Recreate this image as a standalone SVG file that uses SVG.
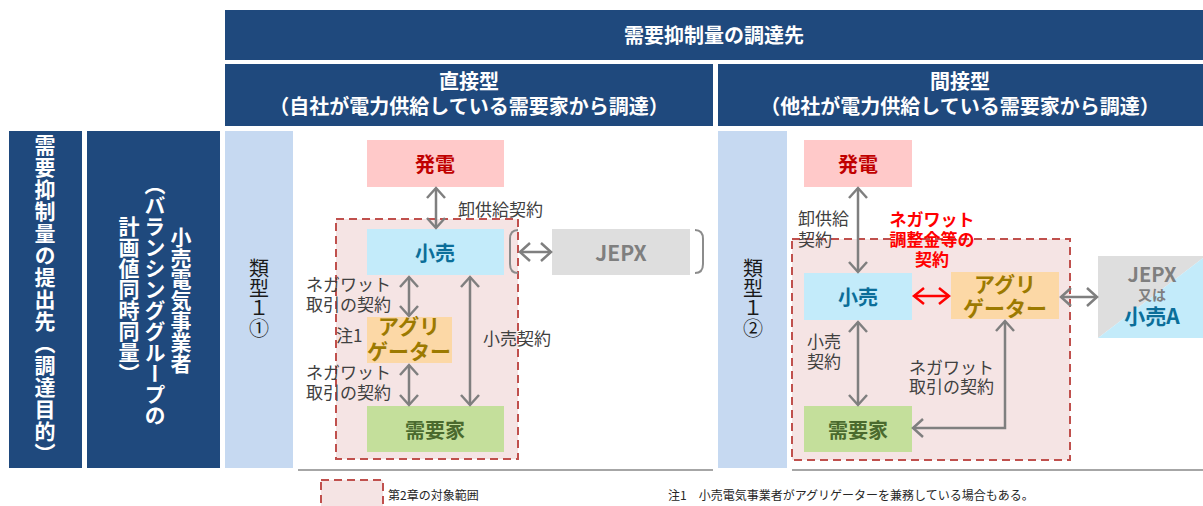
<svg xmlns="http://www.w3.org/2000/svg" width="1203" height="506" viewBox="0 0 1203 506">
<style>
text{font-family:"Noto Sans CJK JP","Noto Sans",sans-serif}
.hdr{fill:#1f497d}
.hdrt{fill:#fff;font-weight:bold;font-size:20px;text-anchor:middle;dominant-baseline:central}
.vt{fill:#fff;font-weight:bold;font-size:21px;text-anchor:middle;writing-mode:vertical-rl}
.type{fill:#c6d9f1}
.typet{fill:#1a1a1a;font-size:20px;text-anchor:middle;writing-mode:vertical-rl}
.lbl{font-size:17px;fill:#404040;dominant-baseline:central}
.note{font-size:12px;fill:#262626;dominant-baseline:central}
.scope{fill:#f5e4e4;stroke:#c0504d;stroke-width:2;stroke-dasharray:8 5}
.nt{font-weight:bold;font-size:20px;text-anchor:middle;dominant-baseline:central}
.gen{fill:#ffc9c9}.gent{fill:#c00000}
.ret{fill:#c3ebfa}.rett{fill:#0b6e99}
.agg{fill:#fcd8a6}.aggt{fill:#9c7a00;font-size:21px}
.dem{fill:#c4df9b}.demt{fill:#4a6a2e}
.jepx{fill:#dedede}.jepxt{fill:#7f7f7f;font-size:21px}
.conn{stroke:#7f7f7f;stroke-width:2.5;fill:none;marker-start:url(#ah);marker-end:url(#ah)}
.connr{stroke:#ff0000;stroke-width:2.5;fill:none;marker-start:url(#ahr);marker-end:url(#ahr)}
.brk{stroke:#8c8c8c;stroke-width:2;fill:none}
.base{stroke:#a6a6a6;stroke-width:2}
</style>
<defs>
<marker id="ah" markerUnits="userSpaceOnUse" viewBox="0 0 12 20" refX="11" refY="10" markerWidth="12" markerHeight="20" orient="auto-start-reverse" overflow="visible">
<path d="M1,1 L11,10 L1,19" fill="none" stroke="#7f7f7f" stroke-width="2.5"/>
</marker>
<marker id="ahr" markerUnits="userSpaceOnUse" viewBox="0 0 12 20" refX="11" refY="10" markerWidth="12" markerHeight="20" orient="auto-start-reverse" overflow="visible">
<path d="M1,2 L11,10 L1,18" fill="none" stroke="#ff0000" stroke-width="2.5"/>
</marker>
</defs>

<g id="header">
<rect class="hdr" x="225" y="10" width="978" height="50"/>
<text class="hdrt" x="714" y="34">需要抑制量の調達先</text>
<rect class="hdr" x="225" y="64" width="488" height="62"/>
<text class="hdrt" x="469" y="80">直接型</text>
<text class="hdrt" x="469" y="105">（自社が電力供給している需要家から調達）</text>
<rect class="hdr" x="718" y="64" width="485" height="62"/>
<text class="hdrt" x="960" y="80">間接型</text>
<text class="hdrt" x="960" y="105">（他社が電力供給している需要家から調達）</text>
</g>

<g id="side-labels">
<rect class="hdr" x="9" y="131" width="73" height="337"/>
<text class="vt" x="45" y="300" style="letter-spacing:1px">需要抑制量の提出先（調達目的）</text>
<rect class="hdr" x="87" y="131" width="133" height="337"/>
<text class="vt" x="181" y="300">小売電気事業者</text>
<text class="vt" x="155" y="300">（バランシンググループの</text>
<text class="vt" x="129" y="300">計画値同時同量）</text>
</g>

<g id="type-1-1">
<rect class="type" x="225" y="131" width="68" height="337"/>
<text class="typet" x="259" y="298">類型１①</text>
</g>
<g id="type-1-2">
<rect class="type" x="718" y="131" width="69" height="337"/>
<text class="typet" x="753" y="298">類型１②</text>
</g>

<g id="baselines">
<line class="base" x1="298" y1="470" x2="713" y2="470"/>
<line class="base" x1="792" y1="470" x2="1203" y2="470"/>
</g>

<g id="scope-left"><rect class="scope" x="336" y="219" width="182" height="240"/></g>
<g id="scope-right"><rect class="scope" x="792" y="239" width="278" height="221"/></g>

<!-- left panel nodes -->
<g id="gen-left"><rect class="gen" x="367" y="140" width="137" height="47"/><text class="nt gent" x="435" y="163">発電</text></g>
<g id="retail-left"><rect class="ret" x="367" y="229" width="137" height="46"/><text class="nt rett" x="435" y="252">小売</text></g>
<g id="agg-left"><rect class="agg" x="367" y="317" width="85" height="46"/><text class="nt aggt" x="409" y="325">アグリ</text><text class="nt aggt" x="409" y="350">ゲーター</text></g>
<g id="demand-left"><rect class="dem" x="367" y="406" width="137" height="46"/><text class="nt demt" x="435" y="429">需要家</text></g>
<g id="jepx-left"><rect class="jepx" x="552" y="229" width="138" height="46"/><text class="nt jepxt" x="621" y="252">JEPX</text>
<path class="brk" d="M518,230 Q510,230 510,239 L510,264 Q510,273 518,273"/>
<path class="brk" d="M695,230 Q703,230 703,239 L703,264 Q703,273 695,273"/>
</g>

<!-- right panel nodes -->
<g id="gen-right"><rect class="gen" x="804" y="140" width="108" height="47"/><text class="nt gent" x="858" y="163">発電</text></g>
<g id="retail-right"><rect class="ret" x="804" y="273" width="108" height="47"/><text class="nt rett" x="858" y="296">小売</text></g>
<g id="agg-right"><rect class="agg" x="951" y="272" width="108" height="47"/><text class="nt aggt" x="1005" y="283">アグリ</text><text class="nt aggt" x="1005" y="307">ゲーター</text></g>
<g id="demand-right"><rect class="dem" x="804" y="406" width="108" height="46"/><text class="nt demt" x="858" y="429">需要家</text></g>
<g id="jepx-retailA">
<polygon fill="#dedede" points="1098,256 1203,256 1203,258 1098,338"/>
<polygon fill="#c3ebfa" points="1098,338 1203,258 1203,338"/>
<text class="nt jepxt" x="1152" y="273" style="font-size:20px">JEPX</text>
<text class="nt" x="1152" y="294" style="font-size:14px;fill:#7f7f7f">又は</text>
<text class="nt rett" x="1152" y="315" style="font-size:21px">小売A</text>
</g>

<g id="connectors">
<line class="conn" x1="436" y1="188" x2="436" y2="228"/>
<line class="conn" x1="520" y1="252" x2="551" y2="252"/>
<line class="conn" x1="409" y1="277" x2="409" y2="316"/>
<line class="conn" x1="409" y1="365" x2="409" y2="405"/>
<line class="conn" x1="470" y1="277" x2="470" y2="405"/>
<line class="conn" x1="858" y1="188" x2="858" y2="272"/>
<line class="connr" x1="914" y1="296" x2="949" y2="296"/>
<line class="conn" x1="1061" y1="297" x2="1097" y2="297"/>
<line class="conn" x1="858" y1="322" x2="858" y2="405"/>
<path class="conn" d="M1005,321 L1005,428 L913,428"/>
</g>

<g id="labels">
<text class="lbl" x="458" y="208">卸供給契約</text>
<text class="lbl" x="306" y="283">ネガワット</text>
<text class="lbl" x="306" y="303">取引の契約</text>
<text class="lbl" x="336" y="334">注1</text>
<text class="lbl" x="483" y="337">小売契約</text>
<text class="lbl" x="306" y="371">ネガワット</text>
<text class="lbl" x="306" y="391">取引の契約</text>
<text class="lbl" x="798" y="217">卸供給</text>
<text class="lbl" x="798" y="238">契約</text>
<text class="lbl" x="932" y="218" style="fill:#ff0000;font-weight:bold;text-anchor:middle">ネガワット</text>
<text class="lbl" x="932" y="238" style="fill:#ff0000;font-weight:bold;text-anchor:middle">調整金等の</text>
<text class="lbl" x="932" y="258" style="fill:#ff0000;font-weight:bold;text-anchor:middle">契約</text>
<text class="lbl" x="807" y="340">小売</text>
<text class="lbl" x="807" y="360">契約</text>
<text class="lbl" x="909" y="366">ネガワット</text>
<text class="lbl" x="909" y="385">取引の契約</text>
</g>

<g id="legend">
<rect class="scope" x="321" y="480" width="62" height="34"/>
<text class="note" x="388" y="494">第2章の対象範囲</text>
<text class="note" x="668" y="494">注1　小売電気事業者がアグリゲーターを兼務している場合もある。</text>
</g>
</svg>
